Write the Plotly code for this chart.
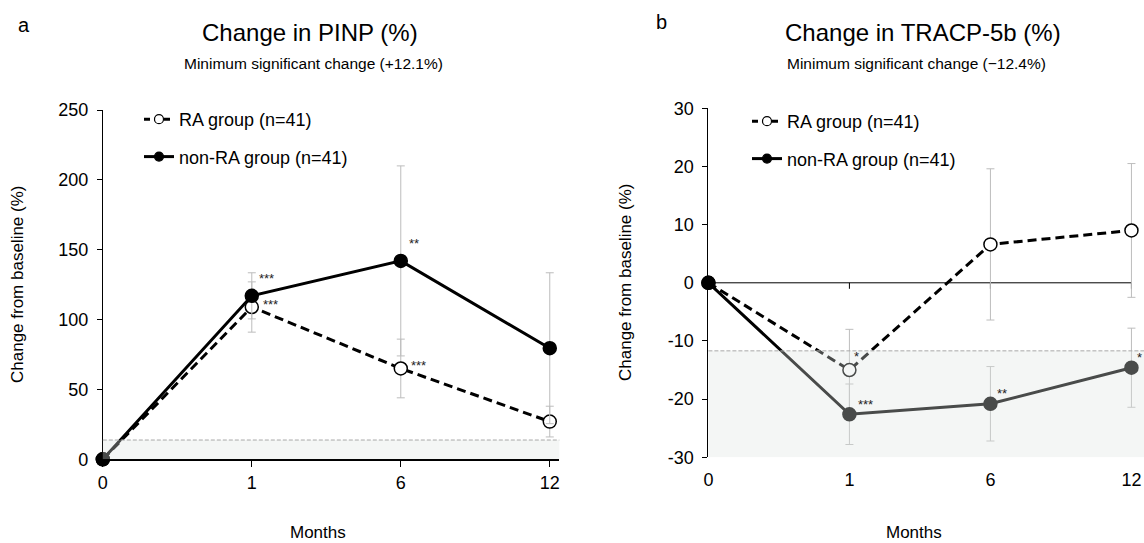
import plotly.graph_objects as go

# ---------------- data ----------------
months = ["0", "1", "6", "12"]

pinp_ra = [0, 109, 65, 27]
pinp_ra_err = [0, 18, 21, 11]
pinp_non = [0, 117, 142, 79.5]
pinp_non_err = [0, 16.5, 68, 54]
pinp_ra_stars = ["", "***", "***", ""]
pinp_non_stars = ["", "***", "**", ""]
pinp_msc = 13.8

tracp_ra = [0, -15, 6.6, 9.0]
tracp_ra_err = [0, 7, 13, 11.5]
tracp_non = [0, -22.6, -20.8, -14.6]
tracp_non_err = [0, 5.2, 6.4, 6.8]
tracp_ra_stars = ["", "*", "", ""]
tracp_non_stars = ["", "***", "**", "*"]
tracp_msc = -11.7

pinp_yticks = [0, 50, 100, 150, 200, 250]
tracp_yticks = [-30, -20, -10, 0, 10, 20, 30]

ra_name = "RA group (n=41)"
non_name = "non-RA group (n=41)"

FONT = "Liberation Sans, Arial, sans-serif"
W, H = 1144, 543

fig = go.Figure()


def add_series(y, err, name, dash, fill, xa, ya, leg):
    fig.add_trace(go.Scatter(
        x=months, y=y, mode="lines+markers", name=name,
        line=dict(color="black", width=3, dash=dash),
        marker=dict(size=13, color=fill, line=dict(color="black", width=1.5)),
        error_y=dict(type="data", array=err, color="#bdbdbd", thickness=1, width=4),
        xaxis=xa, yaxis=ya, showlegend=False, cliponaxis=False,
    ))
    # legend entry (smaller symbol, as in the reference legend)
    fig.add_trace(go.Scatter(
        x=[None], y=[None], mode="lines+markers", name=name,
        line=dict(color="black", width=3, dash=("6px,4px" if dash != "solid" else dash)),
        marker=dict(size=9, color=fill, line=dict(color="black", width=1.2)),
        xaxis=xa, yaxis=ya, legend=leg, legendgroup=leg + name, showlegend=True,
    ))


add_series(pinp_ra, pinp_ra_err, ra_name, "9px,5px", "white", "x", "y", "legend")
add_series(pinp_non, pinp_non_err, non_name, "solid", "black", "x", "y", "legend")
add_series(tracp_ra, tracp_ra_err, ra_name, "9px,5px", "white", "x2", "y2", "legend2")
add_series(tracp_non, tracp_non_err, non_name, "solid", "black", "x2", "y2", "legend2")


# star annotations (label offsets in pixels from each point)
def add_stars(stars, y, xa, ya, dxs, dy):
    for i, s in enumerate(stars):
        if s:
            fig.add_annotation(x=i, y=y[i], xref=xa, yref=ya, text=s, showarrow=False,
                               xshift=dxs[i], yshift=dy, font=dict(size=13, color="#222222", family=FONT))


add_stars(pinp_non_stars, pinp_non, "x", "y", [0, 15, 13, 0], 17)
add_stars(pinp_ra_stars, pinp_ra, "x", "y", [0, 19, 18, 0], 3)
add_stars(tracp_ra_stars, tracp_ra, "x2", "y2", [0, 7, 0, 0], 14)
add_stars(tracp_non_stars, tracp_non, "x2", "y2", [0, 16, 12, 8], 10)

# shading (minimum significant change zone) drawn over traces, semi-transparent
fig.add_shape(type="rect", xref="x domain", yref="y", x0=0, x1=1, y0=0, y1=pinp_msc,
              fillcolor="rgba(222,228,226,0.33)", line=dict(width=0), layer="above")
fig.add_shape(type="rect", xref="x2 domain", yref="y2", x0=0, x1=1, y0=min(tracp_yticks), y1=tracp_msc,
              fillcolor="rgba(222,228,226,0.33)", line=dict(width=0), layer="above")
fig.add_shape(type="line", xref="x domain", yref="y", x0=0, x1=1, y0=pinp_msc, y1=pinp_msc,
              line=dict(color="#a8a8a8", width=1, dash="4px,2px"), layer="above")
fig.add_shape(type="line", xref="x2 domain", yref="y2", x0=0, x1=1, y0=tracp_msc, y1=tracp_msc,
              line=dict(color="#a8a8a8", width=1, dash="4px,2px"), layer="above")

# zero line with ticks for panel b
fig.add_shape(type="line", xref="x2", yref="y2", x0=0, x1=len(months) - 1, y0=0, y1=0,
              line=dict(color="black", width=1), layer="below")
for i in range(1, len(months)):
    fig.add_shape(type="line", xref="x2", yref="y2", x0=i, x1=i, ysizemode="pixel", yanchor=0,
                  y0=0, y1=-6, line=dict(color="black", width=1), layer="below")


# titles and labels
def ann(text, x, y, size, **kw):
    fig.add_annotation(text=text, x=x / W, y=1 - y / H, xref="paper", yref="paper", showarrow=False,
                       xanchor="center", yanchor="middle", font=dict(size=size, color="black", family=FONT), **kw)


ann("a", 24, 25, 20)
ann("Change in PINP (%)", 310, 33, 24)
ann("Minimum significant change (+12.1%)", 313, 63, 15.5)
ann("b", 661, 22, 20)
ann("Change in TRACP-5b (%)", 923, 33, 24)
ann("Minimum significant change (\u221212.4%)", 916, 63, 15.5)
ann("Change from baseline (%)", 17, 285, 17, textangle=-90)
ann("Change from baseline (%)", 625, 283, 17, textangle=-90)
ann("Months", 318, 532, 17)
ann("Months", 914, 532, 17)

axis_common = dict(showgrid=False, zeroline=False, tickfont=dict(size=18, color="black", family=FONT),
                   automargin=False)

fig.update_layout(
    width=W, height=H, margin=dict(l=0, r=0, t=0, b=0, pad=0),
    paper_bgcolor="white", plot_bgcolor="white",
    font=dict(family=FONT, color="black"),
    xaxis=dict(domain=[102.8 / W, 559.3 / W], range=[0, 3.064], type="category", anchor="y",
               showline=True, linecolor="black", linewidth=2, ticks="outside", ticklen=6,
               tickcolor="black", **axis_common),
    yaxis=dict(domain=[1 - 459.3 / H, 1 - 110 / H], range=[0, 250], anchor="x",
               tickvals=pinp_yticks, ticktext=[str(v) for v in pinp_yticks],
               showline=True, linecolor="black", linewidth=1, ticks="outside", ticklen=5,
               tickcolor="black", ticklabelstandoff=5, **axis_common),
    xaxis2=dict(domain=[708.4 / W, 1.0], range=[0, 3.089], type="category", anchor="y2",
                showline=False, ticks="outside", ticklen=6, tickcolor="rgba(0,0,0,0)", **axis_common),
    yaxis2=dict(domain=[1 - 457.3 / H, 1 - 108.3 / H], range=[-30, 30], anchor="x2",
                tickvals=tracp_yticks, ticktext=[str(v) for v in tracp_yticks],
                showline=True, linecolor="black", linewidth=1, ticks="outside", ticklen=5,
                tickcolor="black", ticklabelstandoff=5, **axis_common),
    legend=dict(x=139 / W, y=1 - 101 / H, xanchor="left", yanchor="top", bgcolor="rgba(0,0,0,0)",
                font=dict(size=18, family=FONT, color="black"), tracegroupgap=11),
    legend2=dict(x=747 / W, y=1 - 103 / H, xanchor="left", yanchor="top", bgcolor="rgba(0,0,0,0)",
                 font=dict(size=18, family=FONT, color="black"), tracegroupgap=11),
    showlegend=True,
)

fig.write_html("out.html", config={"displayModeBar": False},
               post_script="document.body.style.margin='0';document.body.style.overflow='hidden';")
